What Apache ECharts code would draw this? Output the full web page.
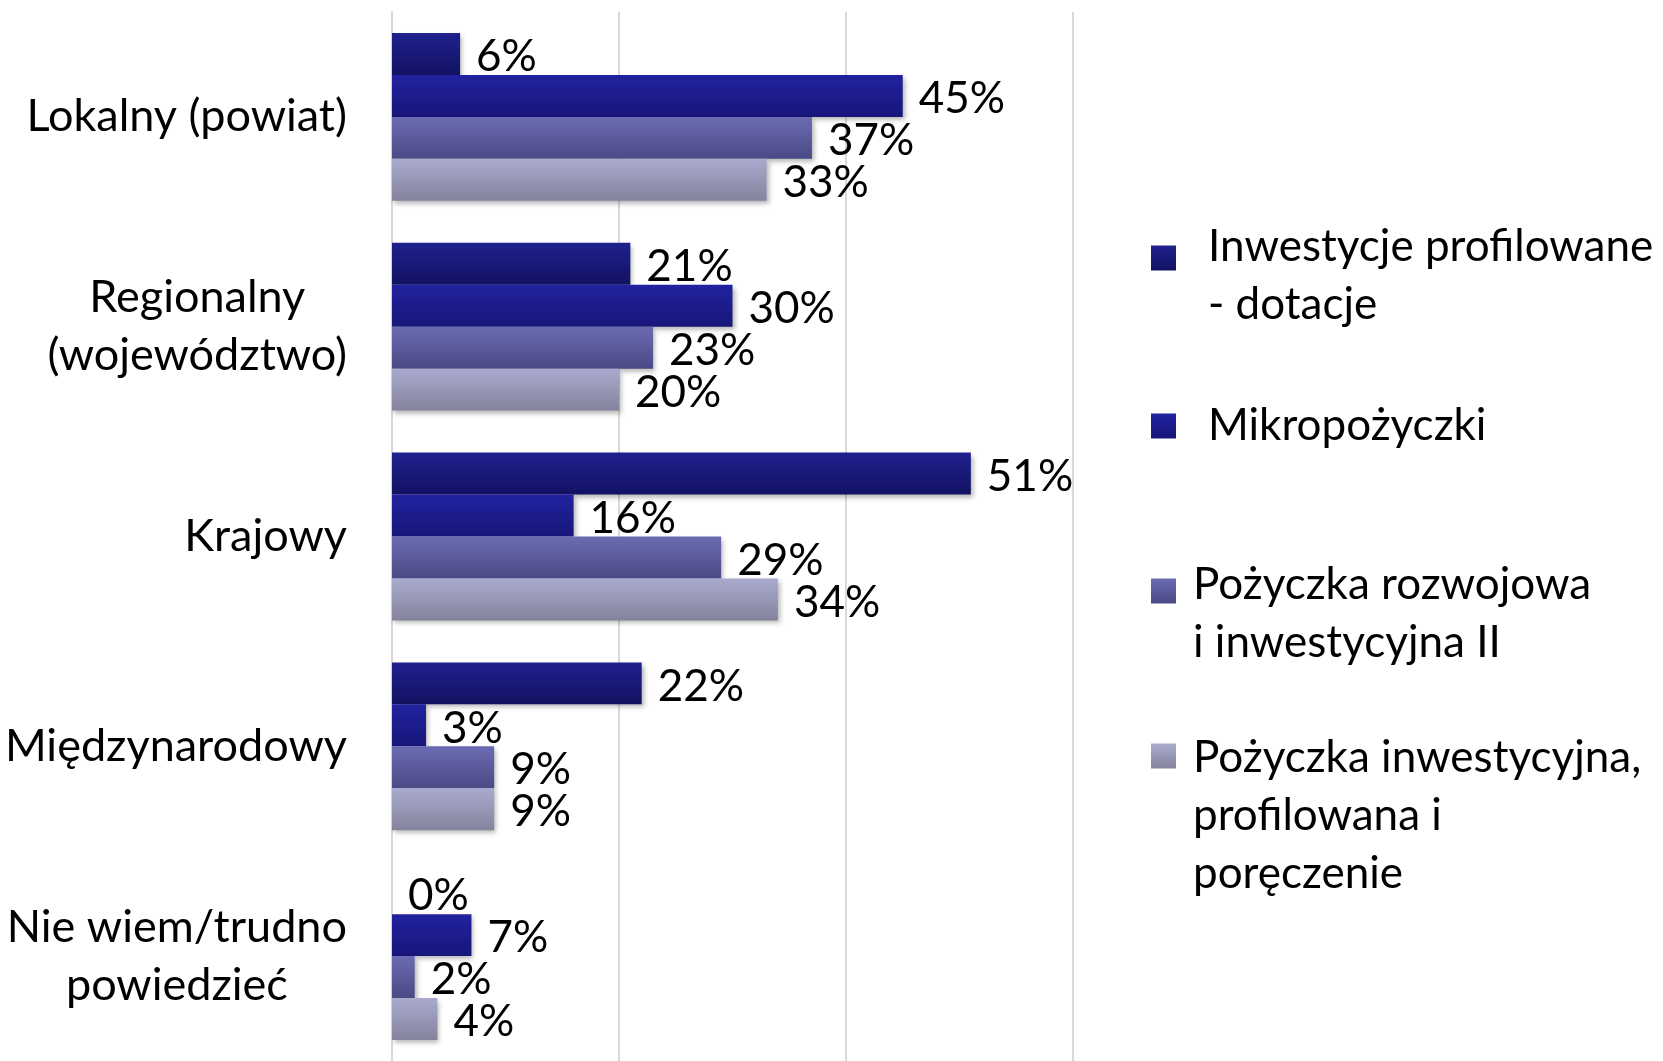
<!DOCTYPE html>
<html>
<head>
<meta charset="utf-8">
<script src="https://cdn.jsdelivr.net/npm/echarts@6/dist/echarts.min.js"></script>
<style>
  html, body { margin: 0; padding: 0; background: #fff; }
  #chart { width: 1663px; height: 1061px; }
</style>
</head>
<body>
<div id="chart"></div>
<script>
var categories = ['Lokalny (powiat)', 'Regionalny\n(województwo)', 'Krajowy', 'Międzynarodowy', 'Nie wiem/trudno\npowiedzieć'];
var seriesNames = [
  'Inwestycje profilowane\n- dotacje',
  'Mikropożyczki',
  'Pożyczka rozwojowa\ni inwestycyjna II',
  'Pożyczka inwestycyjna,\nprofilowana i\nporęczenie'
];
var dotacje = [6, 21, 51, 22, 0];
var mikro = [45, 30, 16, 3, 7];
var rozwojowa = [37, 23, 29, 9, 2];
var inwestycyjna = [33, 20, 34, 9, 4];
var xTicks = [0, 20, 40, 60];

var font = 'Lato';
var fontSize = 45;

function grad(top, bottom) {
  return {
    type: 'linear', x: 0, y: 0, x2: 0, y2: 1,
    colorStops: [{ offset: 0, color: top }, { offset: 1, color: bottom }]
  };
}
var colors = [
  grad('#20208f', '#121262'),
  grad('#2222a0', '#16167a'),
  grad('#6b6bb2', '#4a4a86'),
  grad('#aaaacf', '#83839c')
];

var allData = [dotacje, mikro, rozwojowa, inwestycyjna];
var series = allData.map(function (d, i) {
  return {
    name: seriesNames[i],
    type: 'bar',
    data: d,
    barGap: '0%',
    barCategoryGap: '20%',
    itemStyle: {
      color: colors[i],
      shadowColor: 'rgba(0,0,0,0.3)',
      shadowBlur: 5,
      shadowOffsetX: 2,
      shadowOffsetY: 3
    },
    label: {
      show: true,
      position: 'right',
      distance: 16,
      offset: [0, 3],
      formatter: '{c}%',
      color: '#000',
      fontFamily: font,
      fontSize: 44
    }
  };
});

// one legend per item so the uneven spacing can be kept;
// a thin spacer line on top pushes the text below the icon
var legendTops = [182, 397, 510, 609];
var legendSpacer = [36, 0, 46, 120];
var legendPadLeft = [27, 27, 12, 12];
var legends = seriesNames.map(function (n, i) {
  return {
    data: [n],
    orient: 'vertical',
    left: 1151,
    top: legendTops[i],
    padding: 0,
    icon: 'rect',
    itemWidth: 25,
    itemHeight: 25,
    selectedMode: false,
    formatter: function (name) {
      var lines = name.split('\n').map(function (s) { return '{t|' + s + '}'; });
      if (legendSpacer[i]) lines.unshift('{s| }');
      return lines.join('\n');
    },
    textStyle: {
      color: '#000',
      fontFamily: font,
      fontSize: 44,
      lineHeight: 58,
      padding: [0, 0, 0, legendPadLeft[i]],
      rich: {
        t: { fontFamily: font, fontSize: 44, lineHeight: 58, color: '#000' },
        s: { fontSize: 1, lineHeight: legendSpacer[i] || 1 }
      }
    }
  };
});

var chart = echarts.init(document.getElementById('chart'));
chart.setOption({
  animation: false,
  backgroundColor: '#fff',
  legend: legends,
  grid: { left: 392, top: 12, width: 681, height: 1055, containLabel: false },
  xAxis: {
    type: 'value',
    min: xTicks[0],
    max: xTicks[xTicks.length - 1],
    interval: 20,
    axisLabel: { show: false },
    axisLine: { show: false },
    axisTick: { show: false },
    splitLine: { show: true, lineStyle: { color: '#d9d9d9', width: 2 } }
  },
  yAxis: {
    type: 'category',
    inverse: true,
    data: categories,
    axisLine: { show: true, lineStyle: { color: '#d9d9d9', width: 2 } },
    axisTick: { show: false },
    axisLabel: {
      margin: 45,
      align: 'right',
      color: '#000',
      fontFamily: font,
      fontSize: fontSize,
      lineHeight: 58,
      formatter: function (v) {
        return v.split('\n').map(function (s) { return '{c|' + s + '}'; }).join('\n');
      },
      rich: {
        c: { align: 'center', fontFamily: font, fontSize: fontSize, lineHeight: 58, color: '#000' }
      }
    }
  },
  series: series
});
</script>
</body>
</html>
